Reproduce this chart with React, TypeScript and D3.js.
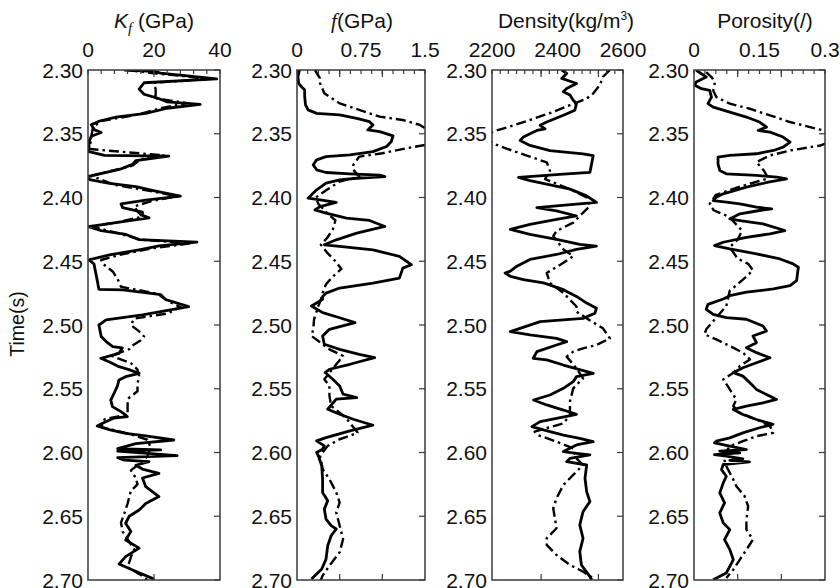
import React from 'react';
import * as d3 from 'd3';

// ---------- data (time in s, value) ----------
const timeTicks = [2.3, 2.35, 2.4, 2.45, 2.5, 2.55, 2.6, 2.65, 2.7];

const kfSolid: [number, number][] = [
  [2.300, 11], [2.301, 20], [2.3025, 22], [2.307, 39], [2.310, 17], [2.315, 15.5], [2.319, 17], [2.322, 21],
  [2.325, 24], [2.327, 34], [2.330, 24], [2.334, 17.5], [2.337, 8.5], [2.340, 3.5], [2.343, 1], [2.347, 2],
  [2.349, 4], [2.352, 1], [2.356, 0.3], [2.364, 0.3], [2.367, 5], [2.3675, 24.5], [2.371, 14.5], [2.374, 13.5],
  [2.378, 9.5], [2.3835, 0.2], [2.386, 0.5], [2.389, 6.5], [2.3915, 14.5], [2.395, 20.5], [2.399, 28], [2.402, 17.5],
  [2.405, 10], [2.408, 10.5], [2.4115, 16.5], [2.414, 16.5], [2.416, 18.5], [2.419, 10.5], [2.4229, 0.2], [2.426, 4],
  [2.429, 11.5], [2.433, 15.5], [2.435, 33], [2.438, 21.5], [2.441, 15.5], [2.445, 6.5], [2.449, 0.3], [2.452, 1.8],
  [2.465, 2.8], [2.472, 3.3], [2.4725, 10.5], [2.476, 21.5], [2.480, 23.5], [2.4856, 30.5], [2.492, 16.5], [2.496, 5.5],
  [2.500, 3.3], [2.509, 4], [2.513, 5.5], [2.517, 7.5], [2.518, 10.4], [2.5222, 9.4], [2.5261, 3.9], [2.529, 6.5],
  [2.5327, 9.4], [2.535, 12.4], [2.5379, 15.5], [2.5405, 11.4], [2.5431, 9.4], [2.548, 8.9], [2.5536, 7.9], [2.559, 6.9],
  [2.564, 7.4], [2.567, 9.4], [2.5705, 11.4], [2.5719, 11.9], [2.573, 7.9], [2.577, 4.4], [2.5792, 2.8], [2.582, 6.4],
  [2.585, 11.4], [2.587, 17.5], [2.5902, 26], [2.593, 14.5], [2.597, 9], [2.598, 22], [2.599, 9], [2.6005, 17],
  [2.6025, 27], [2.604, 9], [2.606, 11], [2.6072, 18.5], [2.610, 14.5], [2.613, 16.5], [2.6163, 21.5], [2.620, 16.5],
  [2.6268, 17.5], [2.6346, 21.5], [2.640, 17.5], [2.6451, 15.5], [2.650, 12.5], [2.6555, 11.4], [2.662, 13], [2.6686, 11.4],
  [2.675, 15.5], [2.6817, 11.4], [2.6875, 9.4], [2.6922, 13.5], [2.6987, 19.5], [2.700, 20],
];

const kfDash: [number, number][] = [
  [2.300, 12], [2.3025, 20], [2.307, 37], [2.310, 20], [2.315, 20.5], [2.320, 20.5], [2.322, 20], [2.326, 30],
  [2.330, 22], [2.335, 15], [2.340, 4], [2.345, 1.5], [2.352, 1], [2.362, 0.5], [2.367, 23], [2.370, 16],
  [2.375, 13.5], [2.383, 1], [2.390, 8], [2.395, 19], [2.399, 27], [2.403, 19], [2.407, 14], [2.411, 15],
  [2.415, 16.5], [2.420, 8], [2.4225, 1], [2.428, 9], [2.433, 16], [2.436, 31], [2.440, 19], [2.445, 9.5],
  [2.449, 4], [2.452, 4.5], [2.458, 7.5], [2.464, 9], [2.470, 10], [2.476, 22], [2.481, 24], [2.486, 28],
  [2.491, 24], [2.495, 14], [2.500, 13], [2.505, 15.5], [2.509, 17], [2.512, 16], [2.516, 13.5], [2.519, 12.5],
  [2.524, 7], [2.530, 13], [2.535, 15], [2.540, 15.5], [2.546, 15], [2.552, 15], [2.558, 12], [2.564, 12],
  [2.570, 12], [2.574, 5], [2.580, 4], [2.585, 12], [2.590, 18], [2.596, 19], [2.603, 18], [2.610, 15],
  [2.614, 13], [2.620, 14.5], [2.625, 15], [2.630, 13], [2.640, 12], [2.648, 11], [2.655, 10], [2.662, 10.5],
  [2.670, 12.5], [2.676, 14], [2.682, 13], [2.690, 12], [2.696, 16], [2.700, 18],
];

const muSolid: [number, number][] = [
  [2.300, 0.03], [2.3052, 0.01], [2.3104, 0.02], [2.313, 0.05], [2.3157, 0.09], [2.3209, 0.09], [2.3274, 0.10],
  [2.3313, 0.13], [2.334, 0.23], [2.3352, 0.50], [2.3379, 0.70], [2.3405, 0.85], [2.3431, 0.89], [2.347, 0.83],
  [2.3483, 0.97], [2.3517, 1.125], [2.3561, 1.105], [2.360, 1.05], [2.364, 0.89], [2.3666, 0.62], [2.3679, 0.34],
  [2.3705, 0.23], [2.3744, 0.19], [2.3783, 0.23], [2.3804, 0.34], [2.3815, 0.62], [2.3825, 0.97], [2.3836, 1.03],
  [2.3849, 0.70], [2.3862, 0.50], [2.3888, 0.34], [2.394, 0.23], [2.3979, 0.17], [2.4005, 0.13], [2.4018, 0.27],
  [2.4039, 0.46], [2.4071, 0.27], [2.4097, 0.21], [2.4123, 0.34], [2.4162, 0.58], [2.418, 0.85], [2.4227, 1.03],
  [2.4279, 0.70], [2.4332, 0.46], [2.4371, 0.32], [2.4384, 0.50], [2.441, 0.89], [2.4462, 1.2], [2.4527, 1.34],
  [2.4554, 1.24], [2.4632, 1.20], [2.4671, 0.89], [2.471, 0.50], [2.475, 0.34], [2.4776, 0.30], [2.4799, 0.30],
  [2.4851, 0.17], [2.4903, 0.30], [2.4943, 0.50], [2.4982, 0.68], [2.5034, 0.38], [2.5086, 0.30], [2.5151, 0.32],
  [2.5191, 0.50], [2.523, 0.73], [2.5256, 0.91], [2.5308, 0.62], [2.5347, 0.38], [2.5373, 0.33], [2.5426, 0.42],
  [2.5478, 0.50], [2.5543, 0.54], [2.5569, 0.70], [2.5582, 0.46], [2.5661, 0.36], [2.570, 0.50], [2.5739, 0.66],
  [2.5786, 0.89], [2.583, 0.62], [2.5883, 0.34], [2.5909, 0.23], [2.5948, 0.32], [2.5974, 0.30], [2.600, 0.23],
  [2.6026, 0.25], [2.6104, 0.29], [2.6209, 0.30], [2.6313, 0.30], [2.6379, 0.36], [2.6444, 0.32], [2.6522, 0.34],
  [2.6574, 0.40], [2.660, 0.46], [2.6653, 0.40], [2.6731, 0.36], [2.6836, 0.34], [2.6914, 0.29], [2.6992, 0.17],
];

const muDash: [number, number][] = [
  [2.300, 0.21], [2.3065, 0.27], [2.3104, 0.27], [2.3183, 0.32], [2.3261, 0.50], [2.3313, 0.73], [2.3366, 0.97],
  [2.3392, 1.24], [2.3431, 1.44], [2.352, 1.65], [2.3588, 1.50], [2.3614, 1.28], [2.3653, 1.0], [2.3679, 0.73],
  [2.3744, 0.66], [2.3783, 0.66], [2.3836, 0.73], [2.3875, 0.50], [2.394, 0.35], [2.400, 0.22], [2.405, 0.25],
  [2.412, 0.35], [2.418, 0.45], [2.425, 0.42], [2.432, 0.35], [2.437, 0.28], [2.443, 0.35], [2.450, 0.45],
  [2.456, 0.52], [2.462, 0.42], [2.468, 0.34], [2.475, 0.30], [2.480, 0.28], [2.4851, 0.25], [2.4955, 0.20],
  [2.5034, 0.19], [2.5086, 0.17], [2.5125, 0.25], [2.5191, 0.38], [2.5243, 0.54], [2.5308, 0.46], [2.5426, 0.32],
  [2.5478, 0.38], [2.5556, 0.38], [2.5634, 0.40], [2.5726, 0.57], [2.5843, 0.71], [2.5869, 0.62], [2.5896, 0.50],
  [2.5948, 0.36], [2.6026, 0.27], [2.6131, 0.30], [2.6209, 0.38], [2.6313, 0.46], [2.6392, 0.50], [2.647, 0.46],
  [2.6522, 0.48], [2.6679, 0.54], [2.6783, 0.50], [2.6888, 0.38], [2.6966, 0.30], [2.700, 0.28],
];

const rhoSolid: [number, number][] = [
  [2.300, 2413], [2.3027, 2428], [2.3066, 2413], [2.3092, 2443], [2.3106, 2458], [2.3145, 2428], [2.3171, 2418],
  [2.3197, 2438], [2.3237, 2448], [2.3263, 2458], [2.3316, 2453], [2.3355, 2418], [2.3408, 2367], [2.3434, 2347],
  [2.3461, 2362], [2.3474, 2337], [2.350, 2316], [2.3526, 2296], [2.3553, 2286], [2.3592, 2316], [2.3632, 2377],
  [2.3658, 2478], [2.3671, 2509], [2.3737, 2504], [2.3803, 2499], [2.3816, 2418], [2.3842, 2281], [2.3868, 2316],
  [2.3895, 2367], [2.3934, 2438], [2.3987, 2489], [2.4039, 2519], [2.4066, 2397], [2.4079, 2337], [2.4105, 2397],
  [2.4145, 2458], [2.4171, 2397], [2.421, 2316], [2.425, 2256], [2.4289, 2316], [2.4329, 2397], [2.4368, 2468],
  [2.4381, 2519], [2.4407, 2458], [2.4447, 2397], [2.4486, 2316], [2.4539, 2276], [2.4578, 2256], [2.4592, 2240],
  [2.4618, 2256], [2.4644, 2296], [2.467, 2357], [2.4723, 2418], [2.4776, 2458], [2.4828, 2489], [2.4868, 2519],
  [2.4908, 2514], [2.4948, 2478], [2.4974, 2347], [2.5052, 2256], [2.5078, 2316], [2.5105, 2397], [2.5131, 2428],
  [2.5157, 2397], [2.5209, 2337], [2.5261, 2326], [2.5274, 2367], [2.5314, 2418], [2.5379, 2509], [2.5405, 2458],
  [2.5444, 2448], [2.5497, 2418], [2.5549, 2377], [2.5588, 2327], [2.5627, 2367], [2.5667, 2418], [2.5701, 2458],
  [2.5732, 2397], [2.5758, 2347], [2.5797, 2322], [2.5823, 2357], [2.5863, 2418], [2.5889, 2468], [2.5915, 2509],
  [2.5941, 2458], [2.5967, 2438], [2.5993, 2418], [2.6006, 2458], [2.6019, 2499], [2.6046, 2438], [2.6072, 2428],
  [2.6098, 2489], [2.6202, 2484], [2.6307, 2489], [2.6385, 2499], [2.6464, 2478], [2.6568, 2468], [2.6673, 2478],
  [2.6777, 2468], [2.6882, 2473], [2.6974, 2499], [2.700, 2505],
];

const rhoDash: [number, number][] = [
  [2.300, 2560], [2.3053, 2539], [2.3119, 2529], [2.3184, 2509], [2.3224, 2489], [2.3276, 2438], [2.3329, 2387],
  [2.3382, 2327], [2.3434, 2266], [2.3474, 2215], [2.350, 2190], [2.3539, 2185], [2.3579, 2205], [2.3618, 2246],
  [2.3671, 2306], [2.3724, 2367], [2.3789, 2377], [2.3855, 2362], [2.3934, 2438], [2.400, 2489], [2.4066, 2499],
  [2.4145, 2468], [2.4197, 2448], [2.4263, 2397], [2.4303, 2387], [2.4407, 2418], [2.446, 2448], [2.4512, 2418],
  [2.4592, 2367], [2.467, 2377], [2.4749, 2418], [2.4855, 2458], [2.4895, 2458], [2.4948, 2489], [2.5026, 2539],
  [2.5105, 2560], [2.5157, 2519], [2.5183, 2478], [2.5209, 2448], [2.5248, 2428], [2.534, 2458], [2.5418, 2478],
  [2.5497, 2448], [2.5601, 2438], [2.5706, 2438], [2.5771, 2418], [2.5837, 2330], [2.5863, 2340], [2.5915, 2397],
  [2.5967, 2448], [2.6046, 2458], [2.6098, 2478], [2.6176, 2448], [2.6255, 2418], [2.6359, 2397], [2.6438, 2387],
  [2.6516, 2392], [2.6594, 2397], [2.6673, 2367], [2.6725, 2367], [2.6804, 2397], [2.6882, 2438], [2.6934, 2478],
  [2.6987, 2509],
];

const phiSolid: [number, number][] = [
  [2.3003, 0.005], [2.3029, 0.017], [2.3055, 0.028], [2.3094, 0.005], [2.312, 0.002], [2.3147, 0.017], [2.316, 0.036],
  [2.3212, 0.040], [2.3264, 0.032], [2.3291, 0.044], [2.333, 0.082], [2.3369, 0.12], [2.3408, 0.150], [2.3448, 0.166],
  [2.3474, 0.147], [2.3487, 0.174], [2.3526, 0.204], [2.3565, 0.22], [2.3605, 0.204], [2.3631, 0.182], [2.3657, 0.143],
  [2.367, 0.082], [2.3683, 0.055], [2.3736, 0.055], [2.3788, 0.059], [2.3814, 0.074], [2.3827, 0.143], [2.384, 0.19],
  [2.3853, 0.212], [2.388, 0.17], [2.3919, 0.12], [2.3971, 0.067], [2.3997, 0.051], [2.4024, 0.044], [2.4037, 0.074],
  [2.405, 0.105], [2.4076, 0.143], [2.4089, 0.178], [2.4102, 0.15], [2.4128, 0.105], [2.4168, 0.082], [2.4181, 0.105],
  [2.4207, 0.158], [2.4259, 0.208], [2.4285, 0.174], [2.4312, 0.12], [2.4351, 0.067], [2.4377, 0.047], [2.4403, 0.082],
  [2.4442, 0.143], [2.4482, 0.197], [2.4521, 0.227], [2.4547, 0.239], [2.4652, 0.235], [2.4691, 0.220], [2.4717, 0.182],
  [2.4743, 0.12], [2.477, 0.082], [2.4796, 0.067], [2.4838, 0.032], [2.4877, 0.028], [2.4916, 0.044], [2.4942, 0.074],
  [2.4955, 0.12], [2.5008, 0.158], [2.5047, 0.166], [2.5086, 0.135], [2.5139, 0.143], [2.5178, 0.12], [2.5217, 0.143],
  [2.5257, 0.174], [2.5296, 0.143], [2.5335, 0.112], [2.5374, 0.09], [2.5401, 0.112], [2.5453, 0.128], [2.5505, 0.143],
  [2.5545, 0.166], [2.5584, 0.189], [2.561, 0.158], [2.5636, 0.12], [2.5662, 0.09], [2.5702, 0.112], [2.5741, 0.143],
  [2.578, 0.181], [2.5806, 0.15], [2.5846, 0.112], [2.5885, 0.082], [2.5911, 0.051], [2.5924, 0.047], [2.595, 0.082],
  [2.5977, 0.12], [2.599, 0.059], [2.6003, 0.105], [2.6016, 0.047], [2.6029, 0.074], [2.605, 0.112], [2.6061, 0.082],
  [2.6074, 0.127], [2.6094, 0.067], [2.6134, 0.063], [2.6186, 0.074], [2.6238, 0.067], [2.6317, 0.059], [2.6395, 0.07],
  [2.6474, 0.059], [2.6552, 0.067], [2.6605, 0.082], [2.6683, 0.070], [2.6762, 0.082], [2.684, 0.09], [2.6893, 0.082],
  [2.6945, 0.074], [2.6998, 0.044],
];

const phiDash: [number, number][] = [
  [2.3016, 0.028], [2.3055, 0.040], [2.3094, 0.048], [2.316, 0.044], [2.3212, 0.051], [2.3264, 0.082], [2.3304, 0.128],
  [2.3356, 0.174], [2.3408, 0.22], [2.3448, 0.266], [2.3474, 0.296], [2.3513, 0.32], [2.3565, 0.31], [2.3592, 0.29],
  [2.3605, 0.266], [2.3631, 0.22], [2.367, 0.174], [2.3723, 0.143], [2.3788, 0.16], [2.385, 0.17], [2.392, 0.10],
  [2.398, 0.05], [2.405, 0.036], [2.410, 0.045], [2.415, 0.08], [2.426, 0.11], [2.433, 0.10], [2.439, 0.082],
  [2.448, 0.10], [2.452, 0.124], [2.457, 0.135], [2.462, 0.12], [2.468, 0.10], [2.473, 0.082], [2.4851, 0.074],
  [2.5034, 0.028], [2.5073, 0.024], [2.5113, 0.051], [2.5165, 0.082], [2.5217, 0.112], [2.527, 0.128], [2.5322, 0.105],
  [2.5374, 0.09], [2.5427, 0.067], [2.5505, 0.082], [2.5584, 0.097], [2.5636, 0.09], [2.5689, 0.105], [2.5741, 0.143],
  [2.5793, 0.174], [2.5846, 0.181], [2.5872, 0.143], [2.5911, 0.112], [2.595, 0.082], [2.6029, 0.067], [2.6107, 0.074],
  [2.6212, 0.090], [2.6264, 0.097], [2.6343, 0.116], [2.6422, 0.124], [2.6526, 0.12], [2.6605, 0.12], [2.6683, 0.135],
  [2.6762, 0.12], [2.684, 0.105], [2.6919, 0.090], [2.6984, 0.074],
];

const kfLabels = [0, 20, 40];
const muLabels = [0, 0.75, 1.5];
const rhoLabels = [2200, 2400, 2600];
const phiLabels = [0, 0.15, 0.3];

// ---------- layout ----------
const Y0 = 70;
const Y1 = 580;
const FONT = '"Liberation Sans", Arial, sans-serif';
const FS = 21;

type Panel = {
  x0: number; x1: number; domain: [number, number]; labels: number[];
  minor: number; major: number[]; solid: [number, number][]; dash: [number, number][];
  title: React.ReactNode; titleX: number;
};

const panels: Panel[] = [
  {
    x0: 88, x1: 220, domain: [0, 40], labels: kfLabels, minor: 4, major: [20],
    solid: kfSolid, dash: kfDash, titleX: 154,
    title: (<>
      <tspan fontStyle="italic">K</tspan>
      <tspan fontStyle="italic" fontFamily='"Liberation Serif", serif' fontSize="15" dy="5">f</tspan>
      <tspan dy="-5"> (GPa)</tspan>
    </>),
  },
  {
    x0: 297, x1: 425, domain: [0, 1.5], labels: muLabels, minor: 0.125, major: [0.5, 1.0],
    solid: muSolid, dash: muDash, titleX: 362,
    title: (<>
      <tspan fontStyle="italic" fontFamily='"Liberation Serif", serif'>f</tspan>
      <tspan>(GPa)</tspan>
    </>),
  },
  {
    x0: 492, x1: 623, domain: [2200, 2600], labels: rhoLabels, minor: 25, major: [2350, 2525],
    solid: rhoSolid, dash: rhoDash, titleX: 566,
    title: (<>
      <tspan>Density(kg/m</tspan>
      <tspan fontSize="12" dy="-8">3</tspan>
      <tspan dy="8">)</tspan>
    </>),
  },
  {
    x0: 694, x1: 825, domain: [0, 0.3], labels: phiLabels, minor: 0.025, major: [0.1, 0.2],
    solid: phiSolid, dash: phiDash, titleX: 765,
    title: <tspan>Porosity(/)</tspan>,
  },
];

const y = d3.scaleLinear().domain([2.3, 2.7]).range([Y0, Y1]);

function fmtTime(t: number) {
  return t.toFixed(2);
}

function PanelView({ p, i }: { p: Panel; i: number }) {
  const x = d3.scaleLinear().domain(p.domain).range([p.x0, p.x1]);
  const line = d3.line<[number, number]>().x(d => x(d[1])).y(d => y(d[0]));
  const step = p.minor;
  const n = Math.round((p.domain[1] - p.domain[0]) / step);
  const minorTicks = d3.range(0, n + 1).map(k => p.domain[0] + k * step);
  const clipId = `clip${i}`;
  const axisColor = '#3a3a3a';
  return (
    <g>
      <defs>
        <clipPath id={clipId}>
          <rect x={p.x0} y={Y0} width={p.x1 - p.x0} height={Y1 - Y0} />
        </clipPath>
      </defs>
      <g clipPath={`url(#${clipId})`}>
        <path d={line(p.dash) || ''} fill="none" stroke="#000" strokeWidth={2.4}
          strokeDasharray="10,4,2.5,4" strokeLinejoin="round" />
        <path d={line(p.solid) || ''} fill="none" stroke="#000" strokeWidth={2.8}
          strokeLinejoin="round" />
      </g>
      <rect x={p.x0} y={Y0} width={p.x1 - p.x0} height={Y1 - Y0} fill="none" stroke={axisColor} strokeWidth={1.5} />
      {minorTicks.map((v, k) => (
        <line key={'m' + k} x1={x(v)} x2={x(v)} y1={Y0} y2={Y0 + 4} stroke={axisColor} strokeWidth={1.2} />
      ))}
      {p.major.map((v, k) => (
        <g key={'M' + k}>
          <line x1={x(v)} x2={x(v)} y1={Y0} y2={Y0 + 7} stroke={axisColor} strokeWidth={1.2} />
          <line x1={x(v)} x2={x(v)} y1={Y1} y2={Y1 - 6} stroke={axisColor} strokeWidth={1.2} />
        </g>
      ))}
      {timeTicks.map((t, k) => (
        <line key={'r' + k} x1={p.x1} x2={p.x1 - 6} y1={y(t)} y2={y(t)} stroke={axisColor} strokeWidth={1.2} />
      ))}
      {timeTicks.map((t, k) => (
        <text key={'t' + k} x={p.x0 - 5} y={y(t)} dy="0.36em" textAnchor="end"
          fontFamily={FONT} fontSize={FS} fill="#111">{fmtTime(t)}</text>
      ))}
      {p.labels.map((v, k) => (
        <text key={'l' + k} x={x(v)} y={57} textAnchor="middle" fontFamily={FONT} fontSize={FS} fill="#111">
          {String(v)}
        </text>
      ))}
      <text x={p.titleX} y={28} textAnchor="middle" fontFamily={FONT} fontSize={FS} fill="#111">
        {p.title}
      </text>
    </g>
  );
}

export default function App() {
  return (
    <svg width={840} height={588} style={{ position: 'absolute', left: 0, top: 0, background: '#fff' }}
      viewBox="0 0 840 588">
      <rect x={0} y={0} width={840} height={588} fill="#fff" />
      {panels.map((p, i) => <PanelView key={i} p={p} i={i} />)}
      <text transform="translate(24,324) rotate(-90)" textAnchor="middle" fontFamily={FONT} fontSize={19.5} fill="#111">
        Time(s)
      </text>
    </svg>
  );
}
